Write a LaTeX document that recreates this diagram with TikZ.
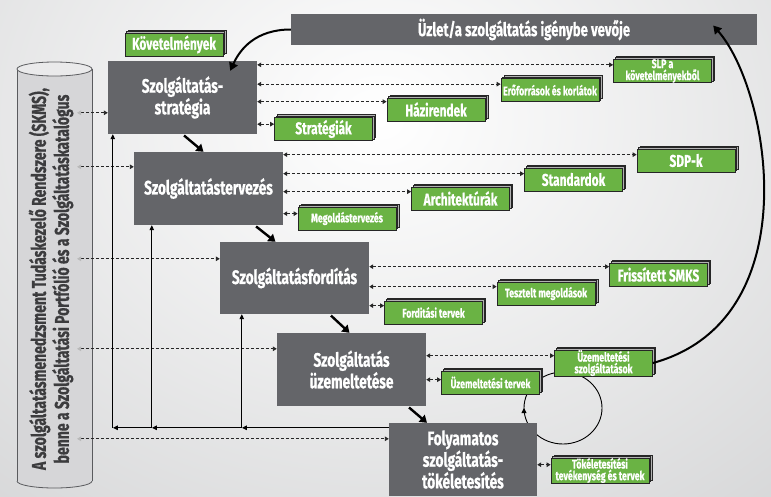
\documentclass[tikz,border=0pt]{standalone}
\usepackage{fontspec}
\newfontfamily\condfont[FakeStretch=0.7, BoldFeatures={FakeBold=0.6}]{Fira Sans}
\usepackage{tikz}
\usetikzlibrary{arrows.meta}
\usetikzlibrary{shadows}
\usetikzlibrary{decorations.markings}

\definecolor{procgray}{HTML}{646569}
\definecolor{resgreen}{HTML}{6AB344}
\definecolor{cylgray}{HTML}{D6D6D8}
\definecolor{cyledge}{HTML}{5A5B5E}
\definecolor{cyltext}{HTML}{3C3C3E}
\definecolor{bggray}{HTML}{B8B9BB}

\tikzset{
  proc/.style={fill=procgray, text=white, align=center, inner sep=0pt,
    font=\condfont\bfseries\fontsize{19.5}{20}\selectfont},
  result/.style={fill=resgreen, draw=black!85, line width=0.7pt, text=white,
    align=center, inner sep=0pt, minimum width=98, minimum height=23,
    double copy shadow={shadow xshift=1.4pt, shadow yshift=1.4pt,
      fill=gray!60, draw=black!85, line width=0.6pt}},
  bigtext/.style={font=\condfont\bfseries\fontsize{17}{17}\selectfont},
  smalltext/.style={font=\condfont\bfseries\fontsize{12.5}{10}\selectfont},
  dlink/.style={black!85, line width=0.9pt, dash pattern=on 3pt off 2pt,
    {Triangle[length=4pt,width=4.5pt]}-{Triangle[length=4pt,width=4.5pt]}},
  kblink/.style={black!85, line width=0.9pt, dash pattern=on 3pt off 2pt,
    {Triangle[length=4pt,width=4.5pt,color=gray!55]}-{Triangle[length=4pt,width=4.5pt]}},
  feedback/.style={black, line width=1pt, -{Triangle[length=5pt,width=4.5pt]}},
  nextstep/.style={black, line width=2.4pt, -{Triangle[length=7pt,width=9pt]}, shorten <=2pt},
  curvearrow/.style={black, line width=2pt, -{Triangle[length=8pt,width=9pt]}},
}

\begin{document}
\begin{tikzpicture}[x=1pt, y=-1pt]
  % background
  \begin{scope}
    \clip (0,0) rectangle (771,496);
    \shade[inner color=white, outer color=bggray] (380,120) ellipse [x radius=1100, y radius=900];
  \end{scope}
  \useasboundingbox (0,0) rectangle (771,496);

  % improvement loop, behind the boxes
  \coordinate (loop) at (563,408);
  \draw[black, line width=0.9pt,
    postaction={decorate, decoration={markings,
      mark=at position 0.5 with {\arrow{Triangle[length=5pt,width=5pt]}}}}]
    (loop) ellipse [x radius=39, y radius=36];

  % knowledge base cylinder
  \fill[cylgray] (17,69) rectangle (92,481);
  \fill[cylgray] (54.5,481) ellipse [x radius=37.5, y radius=7];
  \begin{scope}
    \clip (0,481) rectangle (100,496);
    \draw[cyledge, line width=0.8pt] (54.5,481) ellipse [x radius=37.5, y radius=7];
  \end{scope}
  \draw[cyledge, line width=0.8pt] (17,69) -- (17,481) (92,69) -- (92,481);
  \draw[cyledge, line width=0.8pt, fill=cylgray!50!white] (54.5,69) ellipse [x radius=37.5, y radius=7];
  \node[rotate=90, align=center, text=cyltext,
    font=\condfont\bfseries\fontsize{20}{23}\selectfont]
    (skms) at (51,279)
    {A szolgáltatásmenedzsment Tudáskezelő Rendszere (SKMS),\\benne a Szolgáltatási Portfólió és a Szolgáltatáskatalógus};
  \coordinate (kb) at (77,0);

  \node[proc, minimum width=466, minimum height=31, font=\condfont\bfseries\fontsize{18.8}{20}\selectfont] (user) at (524,29.5) {Üzlet/a szolgáltatás igénybe vevője};

  \node[proc, minimum width=149, minimum height=73] (p1) at (182.5,97.5) {Szolgáltatás-\\stratégia};
  \node[proc, minimum width=149, minimum height=73] (p2) at (208.5,188.5) {Szolgáltatástervezés};
  \node[proc, minimum width=149, minimum height=72] (p3) at (294.5,278) {Szolgáltatásfordítás};
  \node[proc, minimum width=149, minimum height=73] (p4) at (351.5,369.5) {Szolgáltatás\\üzemeltetése};
  \node[proc, minimum width=148, minimum height=73] (p5) at (463,459.5) {Folyamatos\\szolgáltatás-\\tökéletesítés};

  \node[result, bigtext] (req) at (174,44.5) {Követelmények};
  \node[result, smalltext] (slp) at (662.5,71) {SLP a\\követelményekből};
  \node[result, smalltext] (res) at (550,90) {Erőforrások és korlátok};
  \node[result, bigtext] (pol) at (436,109.5) {Házirendek};
  \node[result, bigtext] (strat) at (323.5,129) {Stratégiák};
  \node[result, bigtext] (sdp) at (686,160.5) {SDP-k};
  \node[result, bigtext] (std) at (573.5,179.5) {Standardok};
  \node[result, bigtext] (arch) at (460.5,198.5) {Architektúrák};
  \node[result, smalltext] (sol) at (347,218.5) {Megoldástervezés};
  \node[result, bigtext] (smks) at (658.5,274.5) {Frissített SMKS};
  \node[result, smalltext] (test) at (546,293.5) {Tesztelt megoldások};
  \node[result, smalltext] (trans) at (433.5,312.5) {Forditási tervek};
  \node[result, smalltext] (opsrv) at (603.5,363) {Üzemeltetési\\szolgáltatások};
  \node[result, smalltext] (opplan) at (490.5,382.5) {Üzemeltetési tervek};
  \node[result, smalltext] (impr) at (600,470.5) {Tökéletesítési\\tevékenység és tervek};

  % customer arrows
  \draw[curvearrow] (user.west) .. controls +(-35,0) and +(10,-22) .. ([xshift=-27pt,yshift=-10pt]p1.north east);
  \draw[curvearrow] (opsrv.east) .. controls (810,320) and (770,90) .. ([xshift=-44pt,yshift=4pt]user.east);

  % lifecycle
  \draw[nextstep] (p1.south) -- ([xshift=-5pt]p2.north);
  \draw[nextstep] ([xshift=46pt]p2.south) -- ([xshift=-19pt]p3.north);
  \draw[nextstep] ([xshift=35pt]p3.south) -- ([xshift=-2pt]p4.north);
  \draw[nextstep] ([xshift=56pt]p4.south) -- ([xshift=-36pt]p5.north);

  % outputs
  \draw[dlink] ([yshift=-6pt]p1.east |- slp.north west) -- ([yshift=-6pt]slp.north west);
  \draw[dlink] ([yshift=-6pt]p1.east |- res.north west) -- ([yshift=-6pt]res.north west);
  \draw[dlink] ([yshift=-4pt]p1.east |- pol.north west) -- ([yshift=-4pt]pol.north west);
  \draw[dlink] ([yshift=-7pt]p1.east |- strat.north west) -- ([yshift=-7pt]strat.north west);
  \draw[dlink] ([yshift=-6pt]p2.east |- sdp.north west) -- ([yshift=-6pt]sdp.north west);
  \draw[dlink] ([yshift=-6pt]p2.east |- std.north west) -- ([yshift=-6pt]std.north west);
  \draw[dlink] ([yshift=-5pt]p2.east |- arch.north west) -- ([yshift=-5pt]arch.north west);
  \draw[dlink] ([yshift=-7pt]p2.east |- sol.north west) -- ([yshift=-7pt]sol.north west);
  \draw[dlink] ([yshift=-4pt]p3.east |- smks.north west) -- ([yshift=-4pt]smks.north west);
  \draw[dlink] ([yshift=-5pt]p3.east |- test.north west) -- ([yshift=-5pt]test.north west);
  \draw[dlink] ([yshift=-5pt]p3.east |- trans.north west) -- ([yshift=-5pt]trans.north west);
  \draw[dlink] ([yshift=-6pt]p4.east |- opsrv.north west) -- ([yshift=-6pt]opsrv.north west);
  \draw[dlink] ([yshift=-9pt]p4.east |- opplan.north west) -- ([yshift=-9pt]opplan.north west);
  \draw[dlink] ([yshift=-7pt]p5.east |- impr.north west) -- ([yshift=-7pt]impr.north west);

  % knowledge base
  \draw[kblink] ([yshift=-52pt]kb |- p1.north) -- ([yshift=-52pt]p1.north west);
  \draw[kblink] ([yshift=-15pt]kb |- p2.north) -- ([yshift=-15pt]p2.north west);
  \draw[kblink] ([yshift=-17pt]kb |- p3.north) -- ([yshift=-17pt]p3.north west);
  \draw[kblink] ([yshift=-16pt]kb |- p4.north) -- ([yshift=-16pt]p4.north west);
  \draw[kblink] ([yshift=-16pt]kb |- p5.north) -- ([yshift=-16pt]p5.north west);

  % feedback
  \coordinate (fb) at ([yshift=-5pt]p5.north west);
  \coordinate (j3) at ([xshift=22pt]p3.south west |- fb);
  \coordinate (j2) at ([xshift=18pt]p2.south west |- fb);
  \coordinate (j1) at ([xshift=5pt]p1.south west |- fb);
  \draw[feedback] (fb) -- (j3);
  \draw[feedback] (j3) -- (j2);
  \draw[feedback] (j2) -- (j1);
  \draw[feedback] (j1) -- (j1 |- p1.south);
  \draw[feedback] (j2) -- (j2 |- p2.south);
  \draw[feedback] (j3) -- (j3 |- p3.south);
\end{tikzpicture}
\end{document}
